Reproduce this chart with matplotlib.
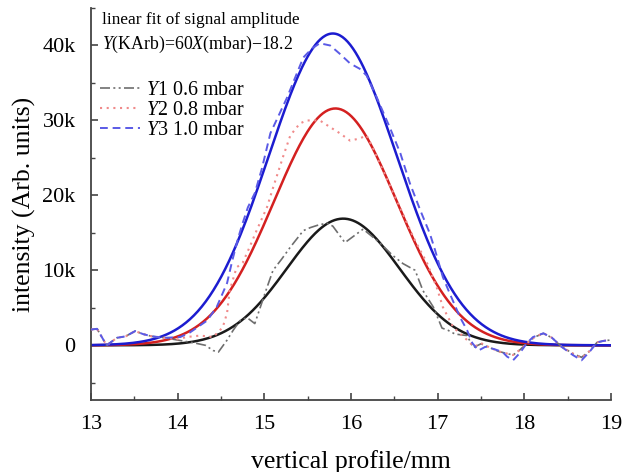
import numpy as np
import matplotlib
matplotlib.use("Agg")
import matplotlib.pyplot as plt
from matplotlib.ticker import MultipleLocator, FuncFormatter

plt.rcParams["font.family"] = ["Liberation Serif", "DejaVu Serif"]
plt.rcParams["mathtext.fontset"] = "custom"
plt.rcParams["mathtext.rm"] = "Liberation Serif"
plt.rcParams["mathtext.it"] = "Liberation Serif:italic"

# Measured profiles (intensity in thousands of arb. units)
x_y1 = [13.0, 13.07, 13.18, 13.3, 13.4, 13.51, 13.6, 13.7, 13.85, 14.0, 14.1, 14.2,
        14.32, 14.41, 14.47, 14.57, 14.64, 14.72, 14.8, 14.89, 15.03, 15.1, 15.2,
        15.3, 15.45, 15.53, 15.61, 15.72, 15.79, 15.93, 16.14, 16.33, 16.48, 16.6,
        16.74, 16.83, 16.95, 17.05, 17.12, 17.2, 17.34, 17.41, 17.5, 17.6, 17.7,
        17.8, 17.87, 17.95, 18.03, 18.12, 18.22, 18.32, 18.43, 18.56, 18.66, 18.75,
        18.84, 18.92, 18.99]
y_y1 = [2.1, 2.2, 0.0, 1.0, 1.2, 1.9, 1.5, 1.2, 1.0, 0.7, 0.5, 0.3,
        0.0, -0.7, -0.9, 0.7, 2.0, 3.3, 3.7, 2.9, 7.7, 10.0, 11.5,
        13.1, 15.3, 15.7, 16.0, 16.3, 15.9, 13.7, 15.5, 13.7, 12.0, 10.9,
        10.0, 7.3, 5.1, 2.3, 2.0, 1.5, 1.3, -0.3, 0.2, -0.3, -0.8,
        -1.1, -1.3, -0.6, 0.3, 1.1, 1.6, 1.0, -0.2, -1.1, -1.6, -0.8,
        0.4, 0.6, 0.7]

x_y2 = [13.0, 13.07, 13.18, 13.3, 13.4, 13.51, 13.6, 13.7, 13.85, 14.0, 14.1, 14.26,
        14.41, 14.52, 14.57, 14.6, 14.68, 14.75, 14.83, 14.91, 15.03, 15.1, 15.22,
        15.3, 15.41, 15.49, 15.64, 15.76, 15.87, 15.99, 16.1, 16.18, 16.25, 16.37,
        16.49, 16.6, 16.72, 16.88, 16.99, 17.06, 17.18, 17.34, 17.42, 17.5, 17.6,
        17.7, 17.8, 17.87, 17.95, 18.03, 18.12, 18.22, 18.32, 18.43, 18.56, 18.66,
        18.75, 18.84, 18.92, 18.99]
y_y2 = [2.1, 2.2, 0.0, 1.0, 1.2, 1.9, 1.5, 1.2, 1.0, 0.8, 1.1, 1.3,
        1.1, 2.4, 4.3, 7.3, 10.4, 11.0, 13.1, 15.3, 18.4, 21.0, 25.3,
        28.0, 29.6, 30.0, 30.0, 29.1, 28.3, 27.3, 27.6, 28.0, 26.4, 23.3,
        20.3, 17.5, 14.4, 10.9, 7.7, 5.1, 2.4, 0.7, -0.2, 0.3, -0.3,
        -0.8, -1.1, -1.3, -0.6, 0.3, 1.1, 1.6, 1.0, -0.2, -1.1, -1.7,
        -0.8, 0.4, 0.6, 0.7]

x_y3 = [13.0, 13.07, 13.18, 13.3, 13.4, 13.51, 13.6, 13.7, 13.85, 14.03, 14.14, 14.34,
        14.45, 14.57, 14.63, 14.7, 14.75, 14.81, 14.89, 14.97, 15.07, 15.26, 15.45,
        15.55, 15.64, 15.76, 15.87, 15.99, 16.1, 16.18, 16.3, 16.45, 16.57, 16.68,
        16.8, 16.91, 16.97, 17.06, 17.14, 17.26, 17.34, 17.4, 17.47, 17.55, 17.65,
        17.75, 17.8, 17.87, 17.95, 18.03, 18.1, 18.22, 18.32, 18.43, 18.56, 18.66,
        18.75, 18.84, 18.92, 18.99]
y_y3 = [2.1, 2.2, 0.0, 1.0, 1.2, 1.9, 1.5, 1.2, 1.0, 1.1, 1.7, 3.3,
        5.1, 8.3, 11.3, 14.4, 16.3, 18.4, 20.3, 23.5, 28.3, 33.0, 38.4,
        39.6, 40.3, 40.0, 38.9, 37.6, 36.9, 36.0, 33.0, 29.0, 25.6, 21.6,
        18.0, 14.9, 12.7, 9.1, 6.9, 3.7, 2.0, 0.3, -0.7, -0.2, -0.5,
        -0.9, -1.5, -2.0, -1.0, 0.3, 1.1, 1.6, 1.0, -0.2, -1.3, -2.0,
        -0.9, 0.4, 0.6, 0.7]

labels = ["1 0.6 mbar", "2 0.8 mbar", "3 1.0 mbar"]

# Gaussian fit parameters for each profile: amplitude (k), centre (mm), sigma (mm)
fit_amp = [16.9, 31.6, 41.6]
fit_center = [15.91, 15.82, 15.79]
fit_sigma = [0.65, 0.71, 0.74]

xticks = [13, 14, 15, 16, 17, 18, 19]
yticks = [0, 10, 20, 30, 40]

fig = plt.figure(figsize=(6.25, 4.72), dpi=100)
ax = fig.add_axes([0.1456, 0.1525, 0.832, 0.8305])

fit_colors = ["#1a1a1a", "#d42020", "#1c1cd0"]
data_styles = [
    dict(color="#6e6e6e", linestyle=(0, (6, 2, 1.2, 2, 1.2, 2)), lw=1.2),
    dict(color="#f08a8a", linestyle=(0, (1, 2.2)), lw=1.5),
    dict(color="#5a5ae6", linestyle=(0, (4, 2.5)), lw=1.4),
]

xs = np.linspace(13, 19, 400)
for a, c, s, col in zip(fit_amp, fit_center, fit_sigma, fit_colors):
    ax.plot(xs, a * np.exp(-(xs - c) ** 2 / (2 * s ** 2)), color=col, lw=1.8, zorder=2)

handles = []
for (xd, yd), st, lab in zip([(x_y1, y_y1), (x_y2, y_y2), (x_y3, y_y3)], data_styles, labels):
    h, = ax.plot(xd, yd, zorder=3, label=r"$Y$" + lab, **st)
    handles.append(h)

ax.set_xlim(13, 19)
ax.set_ylim(-7.3, 45)
ax.set_xticks(xticks)
ax.set_yticks(yticks)
ax.xaxis.set_minor_locator(MultipleLocator(0.5))
ax.yaxis.set_minor_locator(MultipleLocator(5))
ax.yaxis.set_major_formatter(FuncFormatter(lambda v, p: "0" if v == 0 else f"{v:.0f}k"))

for side in ["top", "right"]:
    ax.spines[side].set_visible(False)
for side in ["left", "bottom"]:
    ax.spines[side].set_color("#444444")
    ax.spines[side].set_linewidth(1.3)

ax.tick_params(which="both", direction="in", colors="#444444", labelcolor="black",
               labelsize=16)
ax.tick_params(which="major", length=5, width=1.2)
ax.tick_params(which="minor", length=3, width=1.0)
ax.tick_params(axis="x", pad=11)
ax.tick_params(axis="y", pad=11)

ax.set_xlabel("vertical profile/mm", fontsize=18.5, labelpad=11)
ax.set_ylabel("intensity (Arb. units)", fontsize=18.5, labelpad=5)

fig.text(102 / 625, 1 - 20 / 472, "linear fit of signal amplitude", fontsize=12.4,
         va="center", ha="left")
fig.text(102 / 625, 1 - 44 / 472, r"$Y$(KArb)=60$X$(mbar)$-$18.2", fontsize=12.8,
         va="center", ha="left")

ax.legend(handles=handles, loc="upper left", bbox_to_anchor=(100 / 625, 1 - 81 / 472),
          bbox_transform=fig.transFigure, frameon=False, fontsize=14.4,
          handlelength=2.0, handletextpad=0.3, labelspacing=0.05, borderpad=0,
          borderaxespad=0)

fig.savefig("out.png", dpi=100)
